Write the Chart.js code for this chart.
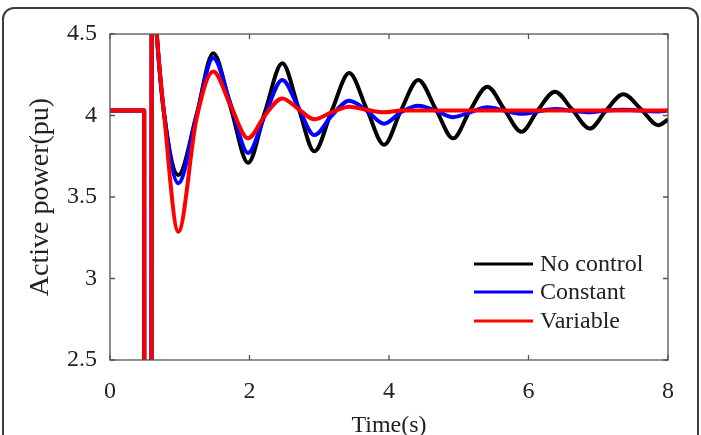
<!DOCTYPE html>
<html>
<head>
<meta charset="utf-8">
<script src="https://cdn.jsdelivr.net/npm/chart.js@4/dist/chart.umd.min.js"></script>
<style>
    body { margin: 0; background: #fff; }
    #wrap { position: relative; width: 701px; height: 435px; overflow: hidden; }
    #frame {
        position: absolute; left: 2px; top: 7px; width: 693px; height: 450px;
        border: 2px solid #3c3c3c; border-radius: 12px;
    }
    #powerchart { position: absolute; left: 0; top: 0; }
</style>
</head>
<body>
<div id="wrap">
    <div id="frame"></div>
    <canvas id="powerchart" width="701" height="435"></canvas>
</div>
<script>
// time axis (s), shared by all three curves
const time = [0, 0.49, 0.492, 0.595, 0.597, 0.67, 0.77, 0.98, 1.24, 1.48, 1.73, 1.98, 2.22, 2.47, 2.7, 2.93, 3.18, 3.43, 3.68, 3.93, 4.17, 4.42, 4.67, 4.92, 5.16, 5.41, 5.65, 5.9, 6.13, 6.38, 6.62, 6.88, 7.11, 7.36, 7.61, 7.86, 8]

// active power (pu)
const noControl = [4.03, 4.03, 2.0, 2.0, 5.0, 4.5, 4.03, 3.635, 4.0, 4.382, 4.05, 3.71, 4.02, 4.32, 4.05, 3.78, 4.03, 4.26, 4.04, 3.82, 4.03, 4.218, 4.04, 3.86, 4.03, 4.177, 4.04, 3.9, 4.03, 4.146, 4.04, 3.92, 4.03, 4.13, 4.04, 3.94, 3.975]
const constant = [4.03, 4.03, 2.0, 2.0, 5.0, 4.5, 4.03, 3.584, 4.0, 4.353, 4.07, 3.77, 4.0, 4.218, 4.05, 3.88, 4.0, 4.09, 4.03, 3.95, 4.02, 4.06, 4.03, 3.99, 4.02, 4.05, 4.03, 4.01, 4.025, 4.04, 4.03, 4.02, 4.03, 4.035, 4.03, 4.025, 4.03]
const variable = [4.03, 4.03, 2.0, 2.0, 5.0, 4.5, 4.03, 3.287, 3.98, 4.27, 4.06, 3.86, 4.0, 4.105, 4.04, 3.977, 4.02, 4.054, 4.035, 4.02, 4.03, 4.03, 4.03, 4.03, 4.03, 4.03, 4.03, 4.03, 4.03, 4.03, 4.03, 4.03, 4.03, 4.03, 4.03, 4.03, 4.03]

const xTicks = [0, 2, 4, 6, 8]
const yTicks = [2.5, 3, 3.5, 4, 4.5]

function toPoints(values) {
    return values.map(function (v, i) {
        return { x: time[i], y: v }
    })
}

const serif = "'Liberation Serif', 'Times New Roman', serif"

// box round the plot, with inward tick marks on all four sides
const boxPlugin = {
    id: "box",
    afterDatasetsDraw(chart) {
        const ctx = chart.ctx
        const a = chart.chartArea
        const xs = chart.scales.x
        const ys = chart.scales.y
        ctx.save()
        ctx.strokeStyle = "#555"
        ctx.lineWidth = 1.3
        ctx.strokeRect(a.left, a.top, a.right - a.left, a.bottom - a.top)
        ctx.beginPath()
        xTicks.forEach(function (v) {
            let px = xs.getPixelForValue(v)
            ctx.moveTo(px, a.bottom); ctx.lineTo(px, a.bottom - 5)
            ctx.moveTo(px, a.top); ctx.lineTo(px, a.top + 5)
        })
        yTicks.forEach(function (v) {
            let py = ys.getPixelForValue(v)
            ctx.moveTo(a.left, py); ctx.lineTo(a.left + 5, py)
            ctx.moveTo(a.right, py); ctx.lineTo(a.right - 5, py)
        })
        ctx.stroke()
        ctx.restore()
    }
}

// legend inside the plot, bottom right
const legendPlugin = {
    id: "innerLegend",
    afterDatasetsDraw(chart) {
        const ctx = chart.ctx
        const a = chart.chartArea
        const rows = [230, 258, 287]
        ctx.save()
        ctx.font = "24px " + serif
        ctx.textBaseline = "middle"
        ctx.textAlign = "left"
        chart.data.datasets.forEach(function (ds, i) {
            let y = a.top + rows[i]
            ctx.strokeStyle = ds.borderColor
            ctx.lineWidth = 3
            ctx.beginPath()
            ctx.moveTo(a.left + 364, y)
            ctx.lineTo(a.left + 423, y)
            ctx.stroke()
            ctx.fillStyle = "#222"
            ctx.fillText(ds.label, a.left + 430, y + 1)
        })
        ctx.restore()
    }
}

const data = {
    datasets: [{
        label: "No control",
        data: toPoints(noControl),
        borderColor: "#000000",
        order: 2
    }, {
        label: "Constant",
        data: toPoints(constant),
        borderColor: "#0000ff",
        order: 1
    }, {
        label: "Variable",
        data: toPoints(variable),
        borderColor: "#ff0000",
        order: 0
    }]
}

const config = {
    type: "line",
    data,
    options: {
        responsive: false,
        animation: false,
        devicePixelRatio: 1,
        layout: { padding: { left: 0, top: 34, right: 33, bottom: 0 } },
        datasets: {
            line: {
                borderWidth: 4,
                pointRadius: 0,
                fill: false,
                cubicInterpolationMode: "monotone",
                clip: 0
            }
        },
        plugins: {
            legend: { display: false },
            tooltip: { enabled: false }
        },
        scales: {
            x: {
                type: "linear",
                min: 0,
                max: 8,
                afterFit(scale) { scale.height = 75 },
                afterBuildTicks(scale) { scale.ticks = xTicks.map(v => ({ value: v })) },
                grid: { display: false, drawTicks: false },
                border: { display: false },
                ticks: {
                    padding: 17, color: "#222", font: { family: serif, size: 24 },
                    callback: v => String(v)
                },
                title: {
                    display: true,
                    text: "Time(s)",
                    color: "#222",
                    padding: { top: 0, bottom: -5 },
                    font: { family: serif, size: 24 }
                }
            },
            y: {
                type: "linear",
                min: 2.5,
                max: 4.5,
                afterFit(scale) { scale.width = 110 },
                afterBuildTicks(scale) { scale.ticks = yTicks.map(v => ({ value: v })) },
                grid: { display: false, drawTicks: false },
                border: { display: false },
                ticks: {
                    padding: 13, color: "#222", font: { family: serif, size: 24 },
                    callback: v => String(v)
                },
                title: {
                    display: true,
                    text: "Active power(pu)",
                    color: "#222",
                    padding: { top: 24, bottom: 0 },
                    font: { family: serif, size: 28 }
                }
            }
        }
    },
    plugins: [boxPlugin, legendPlugin]
}

const myChart = new Chart(document.getElementById("powerchart"), config)
</script>
</body>
</html>
